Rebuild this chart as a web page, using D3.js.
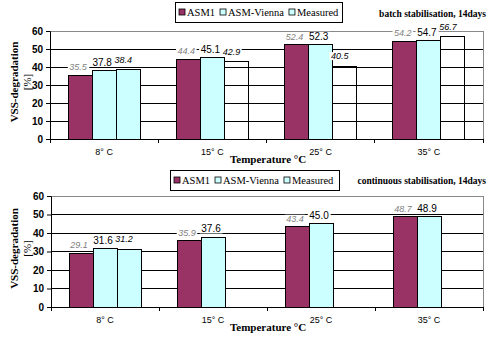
<!DOCTYPE html>
<html>
<head>
<meta charset="utf-8">
<script src="https://cdn.jsdelivr.net/npm/d3@7"></script>
<style>
  html, body { margin: 0; padding: 0; background: #fff; }
  svg { display: block; }
</style>
</head>
<body>
<svg id="chart" width="493" height="339"></svg>
<script>
// Temperatures of the stabilisation runs
const categories = ["8°C", "15°C", "25°C", "35°C"];
const seriesNames = ["ASM1", "ASM-Vienna", "Measured"];
const yTicks = [0, 10, 20, 30, 40, 50, 60];

// Batch stabilisation, 14 days — VSS degradation [%]
const batchASM1 = [35.5, 44.4, 52.4, 54.2];
const batchVienna = [37.8, 45.1, 52.3, 54.7];
const batchMeasured = [38.4, 42.9, 40.5, 56.7];

// Continuous stabilisation, 14 days — VSS degradation [%]
const contASM1 = [29.1, 35.9, 43.4, 48.7];
const contVienna = [31.6, 37.6, 45.0, 48.9];
const contMeasured = [31.2, null, null, null];

const PLUM = "#993366";
const CYAN = "#ccffff";
const SERIF = "'Liberation Serif', 'Times New Roman', serif";
const SANS = "'Liberation Sans', Arial, sans-serif";

const svg = d3.select("#chart");

function panel(cfg) {
  const g = svg.append("g");
  const x = d3.scaleBand().domain(categories).range([cfg.left, cfg.right]);
  const y = d3.scaleLinear().domain([0, 60]).range([cfg.bottom, cfg.top]);
  const groupW = x.bandwidth() * 2 / 3;
  const xs = d3.scaleBand().domain(seriesNames)
    .range([(x.bandwidth() - groupW) / 2, (x.bandwidth() + groupW) / 2]);

  // grid
  g.append("g").selectAll("line").data(yTicks.filter(t => t > 0 && t < 60)).join("line")
    .attr("x1", cfg.left).attr("x2", cfg.right)
    .attr("y1", d => y(d)).attr("y2", d => y(d))
    .attr("stroke", "#000").attr("stroke-width", 1).attr("shape-rendering", "crispEdges");
  // plot frame (top and right)
  g.append("path")
    .attr("d", `M${cfg.left},${y(60)}H${cfg.right}V${y(0)}`)
    .attr("fill", "none").attr("stroke", "#888").attr("shape-rendering", "crispEdges");

  const bars = [];
  categories.forEach((c, i) => {
    [cfg.asm1[i], cfg.vienna[i], cfg.measured[i]].forEach((v, k) => {
      if (v == null) return;
      bars.push({ cat: c, i, k, v, name: seriesNames[k] });
    });
  });

  // the 8°C measurement is shaded; the other measurements are outlines only
  const fillFor = b => b.k === 0 ? PLUM : (b.k === 1 ? CYAN : (b.i === 0 ? CYAN : "none"));

  g.append("g").selectAll("rect").data(bars).join("rect")
    .attr("x", b => x(b.cat) + xs(b.name))
    .attr("y", b => y(b.v))
    .attr("width", xs.bandwidth())
    .attr("height", b => y(0) - y(b.v))
    .attr("fill", fillFor)
    .attr("stroke", "#000").attr("stroke-width", 1)
    .attr("shape-rendering", "crispEdges");

  // value labels: measured first, then ASM1, Vienna last (its box sits on top)
  const order = [2, 0, 1];
  const shift = [-2, -2, -5];
  const lab = g.append("g");
  order.forEach(k => {
    bars.filter(b => b.k === k).forEach(b => {
      const cx = x(b.cat) + xs(b.name) + xs.bandwidth() / 2 + shift[k];
      const by = y(b.v) - (k === 2 ? 7 : 5);
      const t = lab.append("text")
        .attr("x", cx).attr("y", by)
        .attr("text-anchor", "middle")
        .attr("font-family", SANS)
        .attr("font-size", k === 1 ? 10 : 9)
        .attr("font-style", k === 1 ? "normal" : "italic")
        .attr("fill", k === 0 ? "#808080" : "#000")
        .text(d3.format(".1f")(b.v));
      const bb = t.node().getBBox();
      lab.insert("rect", () => t.node())
        .attr("x", bb.x - 1.5).attr("y", bb.y + 1)
        .attr("width", bb.width + 3).attr("height", bb.height - 2)
        .attr("fill", "#fff");
    });
  });

  // y axis
  const ya = g.append("g").attr("transform", `translate(${cfg.left},0)`)
    .call(d3.axisLeft(y).tickValues(yTicks).tickSize(4).tickPadding(3));
  ya.select(".domain").attr("stroke", "#000");
  ya.selectAll("line").attr("stroke", "#000");
  ya.selectAll("text").attr("font-family", SANS).attr("font-size", 10)
    .attr("font-weight", "bold").attr("fill", "#000");

  // x axis
  const xa = g.append("g").attr("transform", `translate(0,${cfg.bottom})`);
  xa.append("line").attr("x1", cfg.left).attr("x2", cfg.right)
    .attr("stroke", "#000").attr("shape-rendering", "crispEdges");
  const bounds = categories.map(c => x(c) + x.bandwidth());
  xa.selectAll(".tk").data([cfg.left, ...bounds]).join("line").attr("class", "tk")
    .attr("x1", d => d).attr("x2", d => d).attr("y1", 0).attr("y2", 4)
    .attr("stroke", "#000").attr("shape-rendering", "crispEdges");
  xa.selectAll(".cl").data(categories).join("text").attr("class", "cl")
    .attr("x", c => x(c) + x.bandwidth() / 2)
    .attr("y", 16)
    .attr("text-anchor", "middle")
    .attr("font-family", SANS).attr("font-size", 9)
    .text(c => c.replace("°", "° "));

  // axis titles
  g.append("text")
    .attr("x", 230).attr("y", cfg.bottom + 24)
    .attr("font-family", SERIF).attr("font-size", 11).attr("font-weight", "bold")
    .text("Temperature °C");
  const ty = (cfg.top + cfg.bottom) / 2 - 3;
  g.append("text")
    .attr("transform", `translate(18,${ty}) rotate(-90)`)
    .attr("text-anchor", "middle")
    .attr("font-family", SERIF).attr("font-size", 11).attr("font-weight", "bold")
    .text("VSS-degradation");
  g.append("text")
    .attr("transform", `translate(31,${ty}) rotate(-90)`)
    .attr("text-anchor", "middle")
    .attr("font-family", SERIF).attr("font-size", 11)
    .text("[%]");

  // chart title
  g.append("text")
    .attr("x", 486).attr("y", cfg.titleY)
    .attr("text-anchor", "end")
    .attr("font-family", SERIF).attr("font-size", 9.5).attr("font-weight", "bold")
    .text(cfg.title);

  // legend
  const lg = g.append("g");
  lg.append("rect")
    .attr("x", cfg.legX).attr("y", cfg.legY)
    .attr("width", cfg.legW).attr("height", 20)
    .attr("fill", "#fff").attr("stroke", "#000").attr("shape-rendering", "crispEdges");
  let cx = cfg.legX + 4;
  const legFill = [PLUM, CYAN, CYAN];
  seriesNames.forEach((n, k) => {
    lg.append("rect").attr("x", cx).attr("y", cfg.legY + 7)
      .attr("width", 6).attr("height", 6)
      .attr("fill", legFill[k]).attr("stroke", "#000").attr("stroke-width", 0.8);
    const t = lg.append("text").attr("x", cx + 8).attr("y", cfg.legY + 14)
      .attr("font-family", SERIF).attr("font-size", 10.5).text(n);
    cx += 8 + t.node().getComputedTextLength() + 5;
  });
}

panel({
  left: 50, right: 483, top: 31, bottom: 139,
  asm1: batchASM1, vienna: batchVienna, measured: batchMeasured,
  title: "batch stabilisation, 14days", titleY: 17,
  legX: 175, legY: 2, legW: 167
});

panel({
  left: 51, right: 483, top: 196, bottom: 307,
  asm1: contASM1, vienna: contVienna, measured: contMeasured,
  title: "continuous stabilisation, 14days", titleY: 184,
  legX: 170, legY: 170, legW: 169
});
</script>
</body>
</html>
